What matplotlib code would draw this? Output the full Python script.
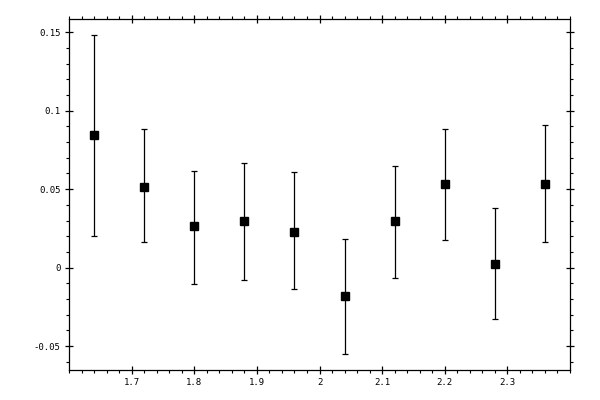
import matplotlib
matplotlib.use('Agg')
import matplotlib.pyplot as plt
from matplotlib.ticker import MultipleLocator, FormatStrFormatter
import numpy as np

# values
x = [1.64, 1.72, 1.80, 1.88, 1.96, 2.04, 2.12, 2.20, 2.28, 2.36]
y = [0.0843, 0.0517, 0.0262, 0.0294, 0.0230, -0.0179, 0.0294, 0.0530, 0.0026, 0.0536]
y_high = [0.148, 0.0881, 0.0617, 0.0670, 0.0607, 0.0183, 0.0645, 0.0885, 0.0381, 0.0907]
y_low = [0.0204, 0.0160, -0.0102, -0.0077, -0.0139, -0.0549, -0.0064, 0.0179, -0.0326, 0.0166]
xtick_vals = [1.7, 1.8, 1.9, 2.0, 2.1, 2.2, 2.3]
xtick_labels = ['1.7', '1.8', '1.9', '2', '2.1', '2.2', '2.3']

y_arr = np.array(y)
err = [y_arr - np.array(y_low), np.array(y_high) - y_arr]

fig = plt.figure(figsize=(6, 4), dpi=100)
ax = fig.add_axes([0.115, 0.075, 0.835, 0.8775])

ax.errorbar(x, y, yerr=err, fmt='s', color='black', ms=6, elinewidth=0.9,
            capsize=2.5, capthick=0.9)

ax.set_xlim(1.6, 2.4)
ax.set_ylim(-0.0653, 0.1585)

ax.xaxis.set_minor_locator(MultipleLocator(0.02))
ax.yaxis.set_major_locator(MultipleLocator(0.05))
ax.yaxis.set_minor_locator(MultipleLocator(0.01))
ax.yaxis.set_major_formatter(FormatStrFormatter('%g'))

ax.set_xticks(xtick_vals)
ax.set_xticklabels(xtick_labels)

# ticks on all four sides, labels only bottom/left
ax.tick_params(which='major', direction='inout', length=6, width=0.9,
               top=True, right=True, labelsize=6.5, pad=3)
ax.tick_params(which='minor', direction='out', length=2.2, width=0.8,
               top=True, right=True)
for lab in ax.get_xticklabels() + ax.get_yticklabels():
    lab.set_family('DejaVu Sans Mono')

for s in ax.spines.values():
    s.set_linewidth(0.9)

fig.savefig('out.png', dpi=100)
